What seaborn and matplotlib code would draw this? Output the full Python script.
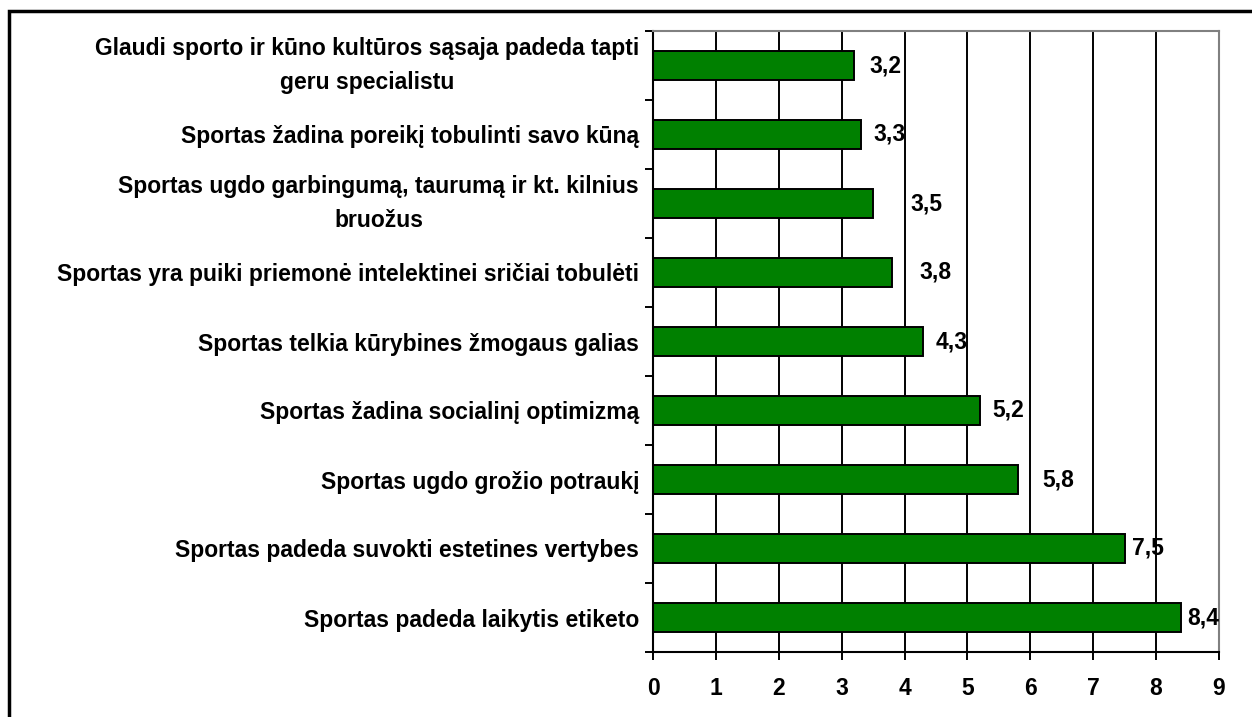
import matplotlib
matplotlib.use("Agg")
import matplotlib.pyplot as plt
import seaborn as sns
import pandas as pd
from matplotlib.patches import Rectangle

categories = [
    "Glaudi sporto ir kūno kultūros sąsaja padeda tapti\ngeru specialistu",
    "Sportas žadina poreikį tobulinti savo kūną",
    "Sportas ugdo garbingumą, taurumą ir kt. kilnius\nbruožus",
    "Sportas yra puiki priemonė intelektinei sričiai tobulėti",
    "Sportas telkia kūrybines žmogaus galias",
    "Sportas žadina socialinį optimizmą",
    "Sportas ugdo grožio potraukį",
    "Sportas padeda suvokti estetines vertybes",
    "Sportas padeda laikytis etiketo",
]
values = [3.2, 3.3, 3.5, 3.8, 4.3, 5.2, 5.8, 7.5, 8.4]
value_labels = ["3,2", "3,3", "3,5", "3,8", "4,3", "5,2", "5,8", "7,5", "8,4"]
x_ticks = [0, 1, 2, 3, 4, 5, 6, 7, 8, 9]

# layout only: gap (pixels) between bar end and its value label, as in the original
label_gap_px = [15, 13, 37, 27, 12, 12, 25, 7, 6]

df = pd.DataFrame({"category": categories, "value": values})

sns.set_style("white")
plt.rcParams["font.family"] = ["Liberation Sans", "DejaVu Sans"]
plt.rcParams["font.weight"] = "bold"
plt.rcParams["text.color"] = "black"
plt.rcParams["xtick.color"] = "black"
plt.rcParams["ytick.color"] = "black"
plt.rcParams["xtick.labelcolor"] = "black"
plt.rcParams["ytick.labelcolor"] = "black"

FS = 16.5

fig = plt.figure(figsize=(12.52, 7.17), dpi=100)
ax = fig.add_axes([653 / 1252, 1 - 652 / 717, (1219 - 653) / 1252, (652 - 31) / 717])

ax.set_axisbelow(True)
for xv in x_ticks[1:-1]:
    ax.axvline(xv, color="black", lw=1.4, zorder=0)

sns.barplot(data=df, y="category", x="value", orient="h", color="#008000",
            saturation=1, edgecolor="black", linewidth=1.4, width=0.41, ax=ax, zorder=2)

ax.set_xlim(0, 9)
ax.set_ylim(len(categories) - 0.5, -0.5)
ax.set_xticks(x_ticks)
ax.set_xticklabels([str(t) for t in x_ticks], fontsize=FS, fontweight="bold")
ax.tick_params(axis="x", bottom=True, direction="out", length=6, width=1.4,
               color="black", pad=12, labelcolor="black")

ax.set_yticks(range(len(categories)))
ax.set_yticklabels(categories, fontsize=FS, fontweight="bold", multialignment="center",
                   linespacing=1.6)
for tl in ax.get_yticklabels():
    if "\n" in tl.get_text():
        tl.set_va("center")
ax.tick_params(axis="y", which="major", left=True, length=0, pad=10, labelcolor="black")
ax.set_yticks([i - 0.5 for i in range(len(categories) + 1)], minor=True)
ax.tick_params(axis="y", which="minor", left=True, direction="out", length=6, width=1.4,
               color="black")

ax.set_xlabel("")
ax.set_ylabel("")

for s in ["left", "bottom"]:
    ax.spines[s].set_color("black")
    ax.spines[s].set_linewidth(1.5)
for s in ["top", "right"]:
    ax.spines[s].set_color("#808080")
    ax.spines[s].set_linewidth(1.5)
    ax.spines[s].set_visible(True)

for i, (v, lab, gap) in enumerate(zip(values, value_labels, label_gap_px)):
    ax.annotate(lab, xy=(v, i), xytext=(gap * 0.72, 0), textcoords="offset points",
                ha="left", va="center", fontsize=FS, fontweight="bold", color="black")

fig.patches.append(Rectangle((9 / 1252, -0.05), 1.2, 1 - 9 / 717 + 0.05 - 2 / 717,
                             transform=fig.transFigure, fill=False,
                             edgecolor="black", linewidth=2.5))

fig.savefig("out.png", dpi=100)
